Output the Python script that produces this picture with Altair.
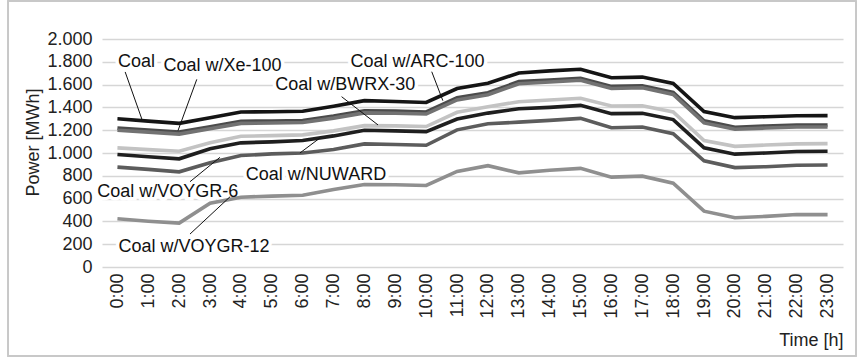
import altair as alt
import pandas as pd

# Hourly power output of the coal fleet and coal + SMR combinations
hours = list(range(24))
coal = [1300, 1280, 1260, 1310, 1360, 1362, 1366, 1410, 1459, 1452, 1443, 1565,
        1612, 1702, 1720, 1735, 1660, 1666, 1610, 1364, 1310, 1318, 1327, 1328]
xe100 = [1218, 1201, 1184, 1231, 1278, 1281, 1285, 1324, 1370, 1367, 1360, 1484,
         1529, 1626, 1641, 1656, 1584, 1590, 1532, 1282, 1226, 1237, 1246, 1246]
arc100 = [1200, 1183, 1166, 1213, 1260, 1263, 1267, 1306, 1352, 1349, 1342, 1466,
          1511, 1608, 1623, 1638, 1566, 1572, 1514, 1264, 1208, 1219, 1228, 1228]
bwrx30 = [1045, 1030, 1016, 1089, 1147, 1152, 1159, 1194, 1240, 1238, 1232, 1357,
          1405, 1450, 1465, 1480, 1412, 1415, 1360, 1110, 1058, 1070, 1080, 1082]
nuward = [987, 967, 949, 1037, 1089, 1098, 1110, 1150, 1200, 1194, 1188, 1298,
          1350, 1388, 1400, 1418, 1345, 1348, 1293, 1045, 990, 1000, 1013, 1015]
voygr6 = [876, 856, 835, 914, 978, 992, 1000, 1030, 1080, 1074, 1068, 1203,
          1256, 1271, 1286, 1304, 1222, 1228, 1170, 932, 872, 880, 893, 895]
voygr12 = [423, 402, 385, 560, 612, 622, 630, 680, 723, 722, 715, 838,
           889, 826, 848, 865, 788, 797, 735, 490, 432, 444, 460, 459]

series_names = ["Coal", "Coal w/Xe-100", "Coal w/ARC-100", "Coal w/BWRX-30",
                "Coal w/NUWARD", "Coal w/VOYGR-6", "Coal w/VOYGR-12"]
series_values = [coal, xe100, arc100, bwrx30, nuward, voygr6, voygr12]
series_colors = ["#151515", "#4b4b4b", "#727272", "#c3c3c3",
                 "#1f1f1f", "#5c5c5c", "#8f8f8f"]

# Y axis ticks every 200 MWh
y_ticks = [0, 200, 400, 600, 800, 1000, 1200, 1400, 1600, 1800, 2000]

# Callout labels (hour, MWh) and their leader lines
label_h = [0.62, 3.40, 9.72, 7.38, 6.43, 1.63, 2.48]
label_v = [1798, 1763, 1801, 1596, 807, 660, 173]
leader_h0 = [0.25, 2.57, 10.18, 7.26, 5.91, 2.35, 2.35]
leader_v0 = [1711, 1646, 1713, 1494, 1000, 748, 289]
leader_h1 = [0.79, 1.96, 10.54, 8.44, 6.56, 3.32, 3.65]
leader_v1 = [1298, 1195, 1459, 1246, 1132, 962, 617]

rows = []
for name, vals in zip(series_names, series_values):
    for h, v in zip(hours, vals):
        rows.append({"series": name, "hour": h, "power": v})
df = pd.DataFrame(rows)

labels = pd.DataFrame({
    "text": series_names, "h": label_h, "v": label_v,
    "h0": leader_h0, "v0": leader_v0, "h1": leader_h1, "v1": leader_v1,
})

FONT = "Liberation Sans"

x_scale = alt.Scale(domain=[-0.5, 23.5], nice=False, zero=False)
y_scale = alt.Scale(domain=[0, 2000], nice=False)

# One axis definition shared by every layer so nothing conflicts when merged
x_axis = alt.Axis(values=hours, tickCount=24, labelExpr="datum.value + ':00'",
                  labelAngle=270, labelFontSize=18, labelFont=FONT,
                  labelColor="#222", labelPadding=6, grid=False,
                  labelOverlap=False, labelFlush=False,
                  ticks=False, domain=False,
                  title="Time [h]", titleFont=FONT,
                  titleFontSize=18, titleFontWeight="normal",
                  titleColor="#222", titleX=741, titleY=73,
                  titleAlign="right", titleBaseline="middle")
y_axis = alt.Axis(values=y_ticks, tickCount=11,
                  labelExpr="replace(format(datum.value, ','), ',', '.')",
                  labelFontSize=18, labelFont=FONT, labelColor="#222",
                  labelOverlap=False, labelFlush=False,
                  labelPadding=10, ticks=False, domain=False,
                  gridColor="#d6d6d6", gridWidth=1.5,
                  title="Power [MWh]", titleFont=FONT, titleFontSize=18,
                  titleFontWeight="normal", titleColor="#222",
                  titleX=-69, titleY=103, titleAngle=270,
                  titleAlign="center", titleBaseline="middle")

lines = alt.Chart(df).mark_line(strokeWidth=3.6).encode(
    x=alt.X("hour:Q", scale=x_scale, axis=x_axis),
    y=alt.Y("power:Q", scale=y_scale, axis=y_axis),
    color=alt.Color("series:N", scale=alt.Scale(domain=series_names, range=series_colors),
                    legend=None),
    detail="series:N",
)

hx = alt.X("h:Q", scale=x_scale, axis=x_axis)
vy = alt.Y("v:Q", scale=y_scale, axis=y_axis)

halo = alt.Chart(labels).mark_text(
    fontSize=18, font=FONT, stroke="white", strokeWidth=7, color="white",
    baseline="middle", align="center",
).encode(x=hx, y=vy, text="text:N")

leaders = alt.Chart(labels).mark_rule(color="#111", strokeWidth=1).encode(
    x=alt.X("h0:Q", scale=x_scale, axis=x_axis),
    y=alt.Y("v0:Q", scale=y_scale, axis=y_axis),
    x2="h1:Q", y2="v1:Q",
)

texts = alt.Chart(labels).mark_text(
    fontSize=18, font=FONT, color="#111", baseline="middle", align="center",
).encode(x=hx, y=vy, text="text:N")

# Light border around the whole figure
frame = alt.Chart(labels).mark_rect(
    fill=None, stroke="#c8c8c8", strokeWidth=1.2,
).encode(
    x=alt.value(-94), x2=alt.value(754), y=alt.value(-38), y2=alt.value(317),
)

chart = alt.layer(halo, lines, leaders, texts, frame).properties(
    width=741, height=228,
    autosize=alt.AutoSizeParams(type="none"),
    padding={"left": 102, "top": 39, "right": 21, "bottom": 93},
    background="white",
).configure_view(stroke=None)

chart.save("out.html", embed_options={"renderer": "svg", "actions": False})
